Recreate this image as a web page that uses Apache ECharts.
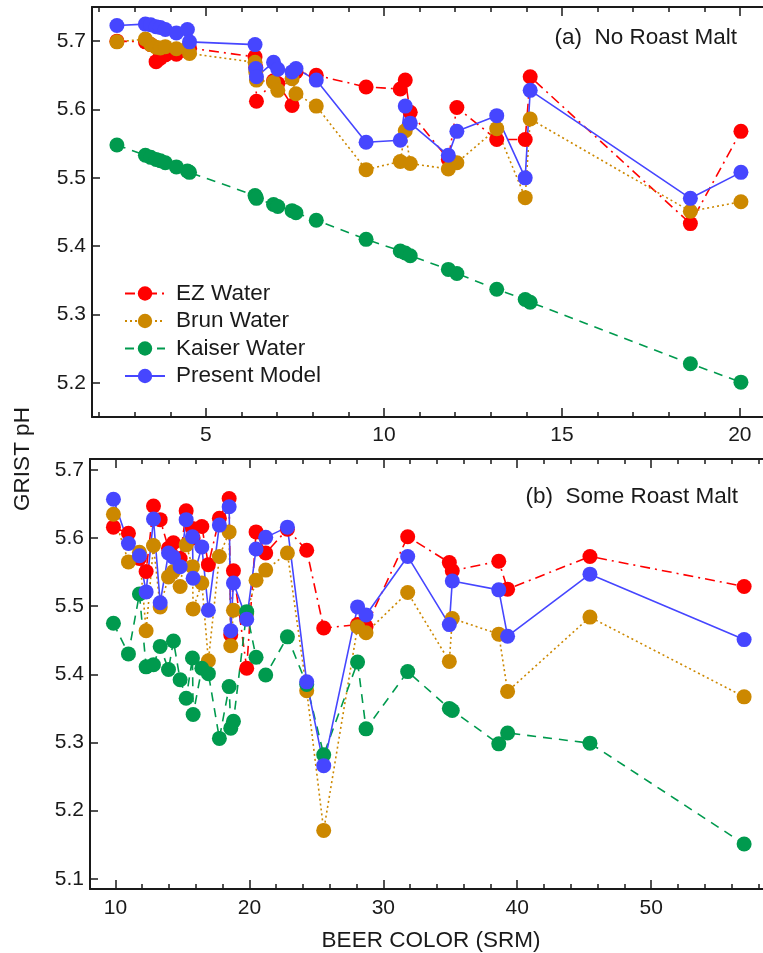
<!DOCTYPE html>
<html>
<head>
<meta charset="utf-8">
<title>Grist pH vs beer color</title>
<script src="https://cdn.jsdelivr.net/npm/echarts@6.0.0/dist/echarts.min.js"></script>
<style>
  html, body { margin: 0; padding: 0; background: #fff; }
  #chart { width: 763px; height: 953px; }
</style>
</head>
<body>
<div id="chart"></div>
<script>
// (a) no roast malt
var topColor  = [2.5, 3.3, 3.45, 3.6, 3.72, 3.86, 4.17, 4.48, 4.54, 6.38, 6.40, 6.42, 6.9, 7.02, 7.42, 7.53, 8.1, 9.5, 10.46, 10.6, 10.74, 11.81, 12.05, 13.17, 13.97, 14.11, 18.61, 20.03];
var topEz     = [5.700, 5.699, 5.695, 5.670, 5.675, 5.680, 5.681, 5.685, 5.690, 5.677, 5.662, 5.612, 5.642, 5.638, 5.606, 5.655, 5.650, 5.633, 5.630, 5.643, 5.596, 5.527, 5.603, 5.556, 5.556, 5.648, 5.433, 5.568];
var topBrun   = [5.699, 5.703, 5.695, 5.691, 5.690, 5.692, 5.689, 5.690, 5.682, 5.669, 5.655, 5.643, 5.640, 5.628, 5.645, 5.623, 5.605, 5.512, 5.524, 5.569, 5.521, 5.513, 5.522, 5.572, 5.471, 5.586, 5.451, 5.465];
var topKaiser = [5.548, 5.533, 5.530, 5.527, 5.525, 5.522, 5.516, 5.510, 5.508, 5.474, 5.472, 5.470, 5.461, 5.458, 5.452, 5.449, 5.438, 5.410, 5.393, 5.390, 5.386, 5.366, 5.360, 5.337, 5.322, 5.318, 5.228, 5.201];
var topModel  = [5.723, 5.725, 5.724, 5.721, 5.720, 5.717, 5.712, 5.717, 5.699, 5.695, 5.660, 5.648, 5.669, 5.659, 5.655, 5.660, 5.643, 5.552, 5.555, 5.605, 5.580, 5.533, 5.568, 5.591, 5.500, 5.628, 5.470, 5.508];

// (b) some roast malt
var botColor  = [9.85, 10.97, 11.79, 12.29, 12.84, 13.34, 13.96, 14.33, 14.83, 15.28, 15.75, 15.8, 16.45, 16.94, 17.76, 18.49, 18.61, 18.81, 19.8, 20.5, 21.22, 22.84, 24.28, 25.55, 28.08, 28.71, 31.82, 34.93, 35.15, 38.62, 39.28, 45.43, 56.94];
var botEz     = [5.616, 5.607, 5.570, 5.551, 5.647, 5.627, 5.585, 5.593, 5.570, 5.640, 5.614, 5.600, 5.617, 5.561, 5.629, 5.658, 5.458, 5.552, 5.409, 5.609, 5.578, 5.613, 5.582, 5.468, 5.473, 5.470, 5.602, 5.564, 5.552, 5.566, 5.525, 5.573, 5.529];
var botBrun   = [5.635, 5.565, 5.579, 5.464, 5.589, 5.499, 5.543, 5.551, 5.529, 5.590, 5.558, 5.496, 5.534, 5.420, 5.573, 5.609, 5.442, 5.494, 5.490, 5.538, 5.553, 5.578, 5.376, 5.171, 5.470, 5.461, 5.520, 5.419, 5.482, 5.459, 5.375, 5.484, 5.367];
var botKaiser = [5.475, 5.430, 5.518, 5.411, 5.414, 5.441, 5.407, 5.449, 5.392, 5.365, 5.424, 5.341, 5.409, 5.401, 5.306, 5.382, 5.321, 5.331, 5.492, 5.425, 5.399, 5.455, 5.385, 5.282, 5.418, 5.320, 5.404, 5.350, 5.347, 5.298, 5.314, 5.299, 5.151];
var botModel  = [5.657, 5.592, 5.574, 5.521, 5.628, 5.505, 5.578, 5.572, 5.558, 5.627, 5.602, 5.541, 5.587, 5.494, 5.619, 5.646, 5.464, 5.534, 5.481, 5.584, 5.601, 5.616, 5.389, 5.266, 5.499, 5.487, 5.573, 5.473, 5.537, 5.524, 5.456, 5.547, 5.451];

// tick positions
var topMajor = [5, 10, 15, 20];
var topMinor = [2, 3, 4, 6, 7, 8, 9, 11, 12, 13, 14, 16, 17, 18, 19];
var botMajor = [10, 20, 30, 40, 50];
var botMinor = [12, 14, 16, 18, 22, 24, 26, 28, 32, 34, 36, 38, 42, 44, 46, 48, 52, 54, 56, 58];
var topPh = [5.2, 5.3, 5.4, 5.5, 5.6, 5.7];
var botPh = [5.1, 5.2, 5.3, 5.4, 5.5, 5.6, 5.7];

var FONT = '"Liberation Sans", Arial, sans-serif';
var INK = '#1a1a1a';
var BIG = 22.5;   // legend, panel labels, axis titles

function zip(xs, ys) {
  return xs.map(function (x, i) { return [x, ys[i]]; });
}

// one x axis layer: either major ticks (+labels) or minor ticks only
function xLayer(grid, pos, min, max, ticks, len, labels, showLine) {
  return {
    type: 'value', gridIndex: grid, position: pos, min: min, max: max,
    axisLine: { show: showLine, lineStyle: { color: INK, width: 2 } },
    axisTick: { show: true, inside: true, length: len, customValues: ticks,
                lineStyle: { color: INK, width: 1.5 } },
    axisLabel: { show: labels, customValues: ticks, margin: pos === 'bottom' && grid === 1 ? 9 : 8,
                 color: INK, fontSize: 21, fontFamily: FONT },
    splitLine: { show: false }
  };
}

function yLayer(grid, min, max, ticks) {
  return {
    type: 'value', gridIndex: grid, min: min, max: max,
    axisLine: { show: true, lineStyle: { color: INK, width: 2 } },
    axisTick: { show: true, inside: true, length: 8, customValues: ticks,
                lineStyle: { color: INK, width: 1.5 } },
    axisLabel: { customValues: ticks, margin: 6, color: INK, fontSize: 21, fontFamily: FONT,
                 formatter: function (v) { return v.toFixed(1); } },
    splitLine: { show: false }
  };
}

var styles = {
  'EZ Water':      { color: '#ff0000', type: [10, 5, 2, 5] },
  'Brun Water':    { color: '#cc8800', type: [2, 3] },
  'Kaiser Water':  { color: '#009a4e', type: [9, 7] },
  'Present Model': { color: '#4646ff', type: 'solid' }
};

function mkSeries(name, xi, yi, data) {
  var s = styles[name];
  return {
    name: name, type: 'line', xAxisIndex: xi, yAxisIndex: yi,
    data: data, symbol: 'circle', symbolSize: 15,
    itemStyle: { color: s.color },
    lineStyle: { color: s.color, width: 1.6, type: s.type },
    emphasis: { disabled: true },
    animation: false
  };
}

function label(text, x, y, align) {
  return {
    type: 'text', x: x, y: y,
    style: { text: text, font: BIG + 'px ' + FONT, fill: INK,
             textAlign: align, textVerticalAlign: 'middle', align: align, verticalAlign: 'middle' }
  };
}

var chart = echarts.init(document.getElementById('chart'));

var yTitle = label('GRIST pH', 23, 459, 'center');
yTitle.rotation = Math.PI / 2;

var option = {
  backgroundColor: '#fff',
  animation: false,
  grid: [
    { left: 92, top: 7, width: 671, height: 410 },
    { left: 90, top: 459, width: 673, height: 430 }
  ],
  xAxis: [
    xLayer(0, 'bottom', 1.8, 20.65, topMajor, 9, true, true),
    xLayer(0, 'bottom', 1.8, 20.65, topMinor, 5, false, false),
    xLayer(0, 'top', 1.8, 20.65, topMajor, 9, false, true),
    xLayer(0, 'top', 1.8, 20.65, topMinor, 5, false, false),
    xLayer(1, 'bottom', 8.1, 58.35, botMajor, 9, true, true),
    xLayer(1, 'bottom', 8.1, 58.35, botMinor, 5, false, false),
    xLayer(1, 'top', 8.1, 58.35, botMajor, 9, false, true),
    xLayer(1, 'top', 8.1, 58.35, botMinor, 5, false, false)
  ],
  yAxis: [
    yLayer(0, 5.15, 5.75, topPh),
    yLayer(1, 5.085, 5.716, botPh)
  ],
  legend: {
    orient: 'vertical', left: 119, top: 277, itemGap: 4.5,
    itemWidth: 40, itemHeight: 18,
    data: ['EZ Water', 'Brun Water', 'Kaiser Water', 'Present Model'],
    textStyle: { color: INK, fontSize: BIG, fontFamily: FONT, padding: [0, 0, 0, 6] }
  },
  graphic: [
    label('(a)  No Roast Malt', 737, 38, 'right'),
    label('(b)  Some Roast Malt', 738, 497, 'right'),
    label('BEER COLOR (SRM)', 431, 941, 'center'),
    yTitle
  ],
  series: [
    mkSeries('EZ Water', 0, 0, zip(topColor, topEz)),
    mkSeries('Brun Water', 0, 0, zip(topColor, topBrun)),
    mkSeries('Kaiser Water', 0, 0, zip(topColor, topKaiser)),
    mkSeries('Present Model', 0, 0, zip(topColor, topModel)),
    mkSeries('EZ Water', 4, 1, zip(botColor, botEz)),
    mkSeries('Brun Water', 4, 1, zip(botColor, botBrun)),
    mkSeries('Kaiser Water', 4, 1, zip(botColor, botKaiser)),
    mkSeries('Present Model', 4, 1, zip(botColor, botModel))
  ]
};

chart.setOption(option);
</script>
</body>
</html>
